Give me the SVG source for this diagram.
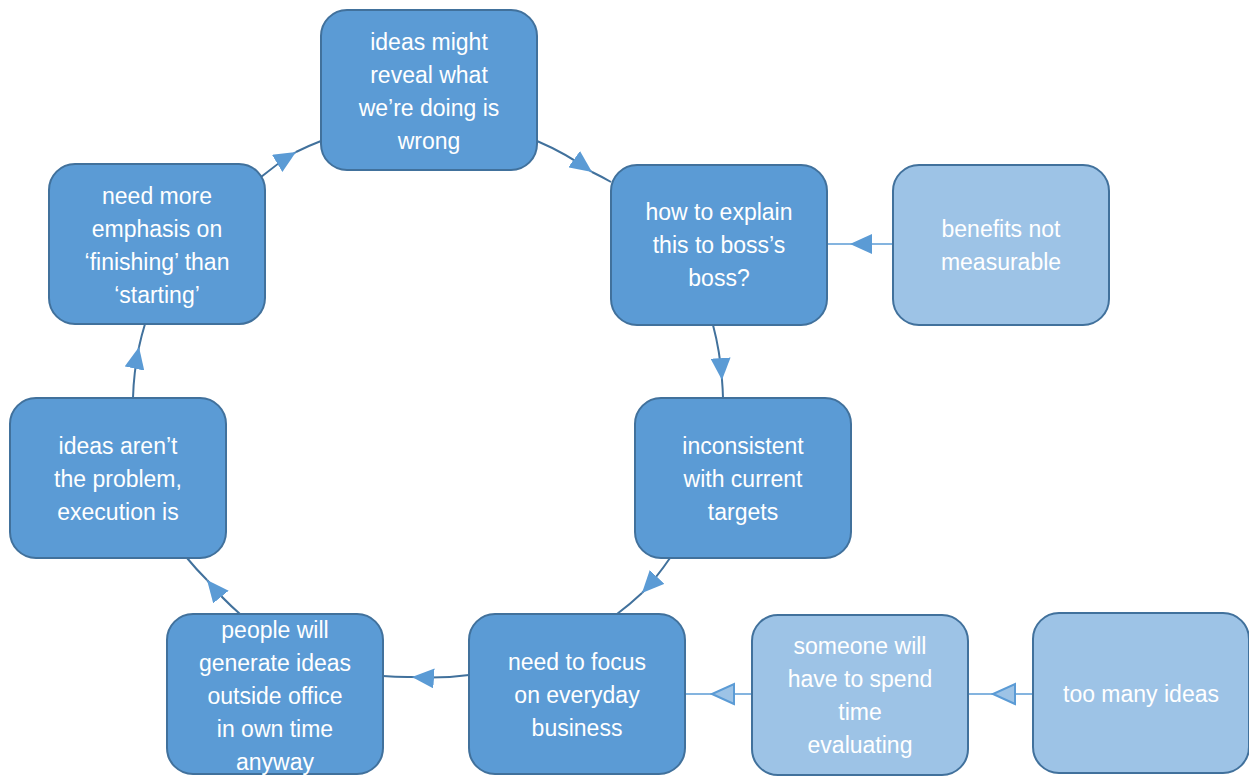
<svg xmlns="http://www.w3.org/2000/svg" width="1249" height="776" viewBox="0 0 1249 776">
  <style>
    .box { fill: #5B9BD5; stroke: #41719C; stroke-width: 2; }
    .box-light { fill: #9DC3E6; stroke: #41719C; stroke-width: 2; }
    .label { fill: #FFFFFF; font-family: "Liberation Sans", Arial, sans-serif; font-size: 23px; text-anchor: middle; }
    .link { fill: none; stroke: #41719C; stroke-width: 2; }
    .link-light { fill: none; stroke: #5B9BD5; stroke-width: 1.5; }
  </style>
  <defs>
    <marker id="tri" markerUnits="userSpaceOnUse" viewBox="0 0 22 20" refX="22" refY="10" markerWidth="22" markerHeight="20" orient="auto">
      <path d="M0,0 L22,10 L0,20 Z" fill="#5B9BD5"/>
    </marker>
    <marker id="tri-open" markerUnits="userSpaceOnUse" viewBox="-2 -2 26 24" refX="22" refY="10" markerWidth="26" markerHeight="24" orient="auto">
      <path d="M0,0 L22,10 L0,20 Z" fill="#9DC3E6" stroke="#5B9BD5" stroke-width="2"/>
    </marker>
  </defs>

  <g id="connectors">
    <!-- cycle arcs, arrowhead placed part-way along each -->
    <path class="link" d="M261,177 A285,285 0 0 1 296,152" marker-end="url(#tri)"/>
    <path class="link" d="M296,152 A285,285 0 0 1 321,141"/>

    <path class="link" d="M537,141 A285,285 0 0 1 592,172" marker-end="url(#tri)"/>
    <path class="link" d="M592,172 A285,285 0 0 1 611,182"/>

    <path class="link" d="M713,325 A285,285 0 0 1 722,380" marker-end="url(#tri)"/>
    <path class="link" d="M722,380 A285,285 0 0 1 723,398"/>

    <path class="link" d="M670,558 A285,285 0 0 1 642,593" marker-end="url(#tri)"/>
    <path class="link" d="M642,593 A285,285 0 0 1 617,614"/>

    <path class="link" d="M469,675 A285,285 0 0 1 412,677" marker-end="url(#tri)"/>
    <path class="link" d="M412,677 A285,285 0 0 1 383,676"/>

    <path class="link" d="M240,614 A285,285 0 0 1 207,580" marker-end="url(#tri)"/>
    <path class="link" d="M207,580 A285,285 0 0 1 187,558"/>

    <path class="link" d="M133,398 A285,285 0 0 1 139,347" marker-end="url(#tri)"/>
    <path class="link" d="M139,347 A285,285 0 0 1 145,324"/>

    <!-- feeder lines from the light boxes -->
    <path class="link-light" d="M893,244 L850,244" marker-end="url(#tri)"/>
    <path class="link-light" d="M850,244 L827,244"/>

    <path class="link-light" d="M752,694 L712,694" marker-end="url(#tri-open)"/>
    <path class="link-light" d="M712,694 L685,694"/>

    <path class="link-light" d="M1033,694 L993,694" marker-end="url(#tri-open)"/>
    <path class="link-light" d="M993,694 L968,694"/>
  </g>

  <g id="node-reveal">
    <rect class="box" x="321" y="10" width="216" height="160" rx="26"/>
    <text class="label"><tspan x="429" y="50">ideas might</tspan><tspan x="429" y="83">reveal what</tspan><tspan x="429" y="116">we’re doing is</tspan><tspan x="429" y="149">wrong</tspan></text>
  </g>

  <g id="node-explain">
    <rect class="box" x="611" y="165" width="216" height="160" rx="26"/>
    <text class="label"><tspan x="719" y="220">how to explain</tspan><tspan x="719" y="253">this to boss’s</tspan><tspan x="719" y="286">boss?</tspan></text>
  </g>

  <g id="node-benefits">
    <rect class="box-light" x="893" y="165" width="216" height="160" rx="26"/>
    <text class="label"><tspan x="1001" y="237">benefits not</tspan><tspan x="1001" y="270">measurable</tspan></text>
  </g>

  <g id="node-targets">
    <rect class="box" x="635" y="398" width="216" height="160" rx="26"/>
    <text class="label"><tspan x="743" y="454">inconsistent</tspan><tspan x="743" y="487">with current</tspan><tspan x="743" y="520">targets</tspan></text>
  </g>

  <g id="node-focus">
    <rect class="box" x="469" y="614" width="216" height="160" rx="26"/>
    <text class="label"><tspan x="577" y="670">need to focus</tspan><tspan x="577" y="703">on everyday</tspan><tspan x="577" y="736">business</tspan></text>
  </g>

  <g id="node-evaluating">
    <rect class="box-light" x="752" y="615" width="216" height="160" rx="26"/>
    <text class="label"><tspan x="860" y="654">someone will</tspan><tspan x="860" y="687">have to spend</tspan><tspan x="860" y="720">time</tspan><tspan x="860" y="753">evaluating</tspan></text>
  </g>

  <g id="node-too-many">
    <rect class="box-light" x="1033" y="613" width="216" height="160" rx="26"/>
    <text class="label"><tspan x="1141" y="702">too many ideas</tspan></text>
  </g>

  <g id="node-own-time">
    <rect class="box" x="167" y="614" width="216" height="160" rx="26"/>
    <text class="label"><tspan x="275" y="638">people will</tspan><tspan x="275" y="671">generate ideas</tspan><tspan x="275" y="704">outside office</tspan><tspan x="275" y="737">in own time</tspan><tspan x="275" y="770">anyway</tspan></text>
  </g>

  <g id="node-execution">
    <rect class="box" x="10" y="398" width="216" height="160" rx="26"/>
    <text class="label"><tspan x="118" y="454">ideas aren’t</tspan><tspan x="118" y="487">the problem,</tspan><tspan x="118" y="520">execution is</tspan></text>
  </g>

  <g id="node-finishing">
    <rect class="box" x="49" y="164" width="216" height="160" rx="26"/>
    <text class="label"><tspan x="157" y="204">need more</tspan><tspan x="157" y="237">emphasis on</tspan><tspan x="157" y="270">‘finishing’ than</tspan><tspan x="157" y="303">‘starting’</tspan></text>
  </g>
</svg>
